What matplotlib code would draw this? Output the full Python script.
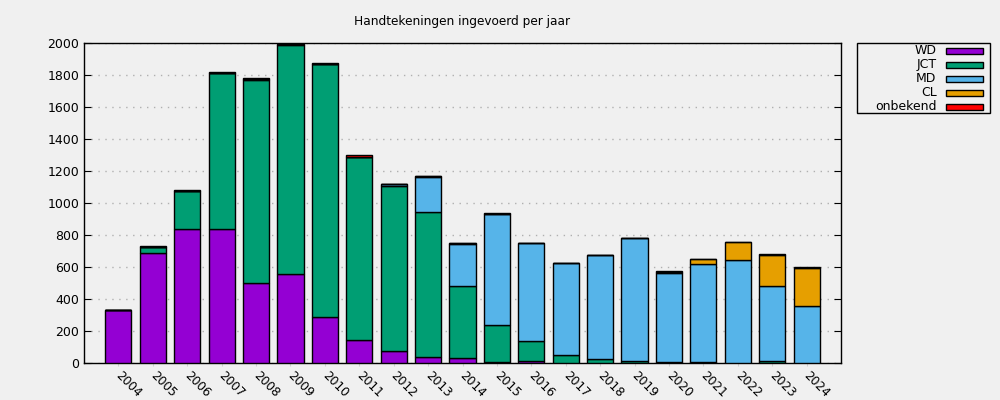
import numpy as np
import matplotlib
matplotlib.use('Agg')
import matplotlib.pyplot as plt
import matplotlib.transforms as mtrans
from matplotlib.patches import Rectangle

# Waarden per jaar
years = ['2004', '2005', '2006', '2007', '2008', '2009', '2010', '2011', '2012', '2013', '2014',
         '2015', '2016', '2017', '2018', '2019', '2020', '2021', '2022', '2023', '2024']
wd = [330, 687, 837, 837, 500, 556, 287, 144, 75, 37, 31, 5, 12, 0, 0, 0, 0, 0, 0, 0, 3]
jct = [0, 38, 238, 975, 1271, 1429, 1582, 1141, 1031, 907, 450, 232, 125, 50, 25, 12, 5, 5, 0, 12, 0]
md = [0, 0, 0, 0, 5, 8, 0, 0, 10, 218, 263, 696, 613, 575, 650, 769, 557, 614, 644, 469, 353]
cl = [0, 0, 0, 0, 0, 0, 0, 0, 0, 5, 5, 0, 0, 0, 0, 0, 5, 31, 112, 197, 238]
onbekend = [3, 5, 5, 5, 5, 3, 3, 13, 5, 3, 3, 2, 3, 3, 3, 2, 5, 3, 3, 5, 3]

series = [('WD', wd, '#9400d3'), ('JCT', jct, '#009e73'), ('MD', md, '#56b4e9'),
          ('CL', cl, '#e69f00'), ('onbekend', onbekend, '#ff0000')]

bg = '#f0f0f0'
W, H = 1000, 400
fig = plt.figure(figsize=(10, 4), dpi=100, facecolor=bg)
ax = fig.add_axes([0.084, 0.0925, 0.757, 0.8])
ax.set_facecolor(bg)

x = np.arange(len(years))
bottom = np.zeros(len(years))
for name, vals, col in series:
    vals = np.array(vals, dtype=float)
    ax.bar(x, vals, width=0.76, bottom=bottom, color=col, edgecolor='black', linewidth=1.0, zorder=3)
    bottom += vals

ax.set_xlim(-1, 21)
ax.set_ylim(0, 2000)
ax.set_yticks(range(0, 2001, 200))
ax.yaxis.grid(True, linestyle=(0, (1, 4)), color='#b0b0b0', linewidth=1.0, zorder=0)
ax.tick_params(axis='y', direction='in', length=5, right=True, labelsize=9, colors='black')
ax.set_xticks(x)
ax.set_xticklabels(years, rotation=-45, ha='left', va='top', rotation_mode='anchor', fontsize=8.7)
ax.tick_params(axis='x', direction='out', length=2, color='#d0d0d0', pad=2)
shift = mtrans.ScaledTranslation(4 / 100, 0, fig.dpi_scale_trans)
for lbl in ax.get_xticklabels():
    lbl.set_transform(lbl.get_transform() + shift)
for s in ax.spines.values():
    s.set_linewidth(1.0)
    s.set_color('black')

fig.text(462.5 / W, 1 - 21.7 / H, 'Handtekeningen ingevoerd per jaar', ha='center', va='center', fontsize=8.7)

# legenda rechts naast de grafiek (tekst rechts uitgelijnd, staal erachter)
frame = Rectangle((857.3 / W, 1 - 113 / H), 133 / W, 69.7 / H, transform=fig.transFigure,
                  facecolor=bg, edgecolor='black', linewidth=1.0)
fig.add_artist(frame)
for i, (name, vals, col) in enumerate(series):
    yc = 50.7 + i * 14.0
    fig.text(936.5 / W, 1 - yc / H, name, ha='right', va='center', fontsize=9)
    fig.add_artist(Rectangle((945.5 / W, 1 - (yc + 3) / H), 37 / W, 6 / H, transform=fig.transFigure,
                             facecolor=col, edgecolor='black', linewidth=1.0))

fig.savefig('out.png', dpi=100, facecolor=bg)
